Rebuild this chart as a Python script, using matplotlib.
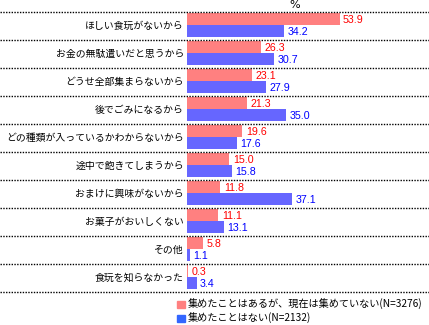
import numpy as np
import matplotlib
matplotlib.use('Agg')
import matplotlib.pyplot as plt
from matplotlib.patches import Patch
from matplotlib.transforms import blended_transform_factory

plt.rcParams['font.family'] = ['Noto Sans CJK JP', 'DejaVu Sans']

# reasons for not collecting (multiple answers, %)
categories = ['ほしい食玩がないから', 'お金の無駄遣いだと思うから', 'どうせ全部集まらないから',
              '後でごみになるから', 'どの種類が入っているかわからないから', '途中で飽きてしまうから',
              'おまけに興味がないから', 'お菓子がおいしくない', 'その他', '食玩を知らなかった']
former = [53.9, 26.3, 23.1, 21.3, 19.6, 15.0, 11.8, 11.1, 5.8, 0.3]
never = [34.2, 30.7, 27.9, 35.0, 17.6, 15.8, 37.1, 13.1, 1.1, 3.4]
former_label = '集めたことはあるが、現在は集めていない(N=3276)'
never_label = '集めたことはない(N=2132)'

W, H = 429, 325
fig = plt.figure(figsize=(W / 100, H / 100), dpi=100)
ax = fig.add_axes([187 / W, 1 - 292 / H, 1 - 187 / W, 280 / H])

n = len(categories)
rows = np.arange(n)
bh = 12 / 28
ax.barh(rows + 7 / 28, former, height=bh, color='#FF8080')
ax.barh(rows + 19 / 28, never, height=bh, color='#6666FF')

ax.set_xlim(0, 85.5)
ax.set_ylim(n, 0)
ax.axis('off')

num_font = dict(family='Liberation Sans', fontsize=7.7, va='center', ha='left')
for i in rows:
    ax.text(former[i] + 1.2, i + 7 / 28 + 0.02, f'{former[i]:.1f}', color='#FF0000', **num_font)
    ax.text(never[i] + 1.2, i + 19 / 28 + 0.02, f'{never[i]:.1f}', color='#0000FF', **num_font)

# row labels and dotted separators span the whole figure width
tr = blended_transform_factory(fig.transFigure, ax.transData)
for i, c in enumerate(categories):
    ax.text(184 / W, i + 0.5, c, transform=tr, ha='right', va='center', fontsize=7.1)
for y in range(n + 1):
    ax.plot([0, 1], [y, y], transform=tr, color='black', lw=1, ls=(0, (1, 1)), clip_on=False)

fig.text(295 / W, 1 - 5 / H, '%', ha='center', va='center', fontsize=8, family='DejaVu Sans')

handles = [Patch(color='#FF8080'), Patch(color='#3366FF')]
fig.legend(handles, [former_label, never_label], loc='upper left',
           bbox_to_anchor=(177 / W, 1 - 299 / H), frameon=False, fontsize=7.3,
           handlelength=0.8, handleheight=0.8, handletextpad=0.3,
           labelspacing=0.3, borderpad=0, borderaxespad=0)

fig.savefig('out.png', dpi=100)
